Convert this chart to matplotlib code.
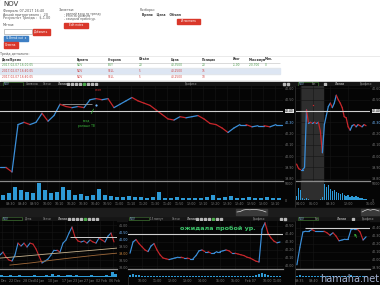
import numpy as np
import matplotlib
matplotlib.use('Agg')
import matplotlib.pyplot as plt
import matplotlib.transforms as mtransforms
from matplotlib.collections import LineCollection
from matplotlib.patches import Rectangle

W, H = 380, 285

# ---------------- данные ----------------
trade_cols = ['Дата/Время', 'Бумага', 'Сторона', 'Объём', 'Цена', 'Позиция', 'Итог', 'Максимум', 'Мин.']
trade_rows = [
    ['2017-02-07 16:00:05', 'NOV', 'BUY', '20', '40.3500', '20', '-1.00', '-20.700', '0'],
    ['2017-02-07 16:40:05', 'NOV', 'SELL', '5', '40.2500', '15', '', '', ''],
    ['2017-02-07 16:40:05', 'NOV', 'SELL', '5', '40.2500', '10', '', '', ''],
]
note_lines = ['- ранний вход по тренду', '- стоп за уровнем', '- ожидала пробой ур.']

# основной график, 5 мин
main_close = [39.90, 39.90, 39.86, 40.28, 40.30, 40.28, 40.30, 40.38, 40.31, 40.36,
              40.46, 40.44, 40.43, 40.44, 40.43, 40.50, 40.51, 40.50, 40.51, 40.43,
              40.46, 40.49, 40.52, 40.49, 40.47, 40.45, 40.41, 40.37, 40.33, 40.32,
              40.35, 40.34, 40.35, 40.36, 40.33, 40.29, 40.28, 40.25, 40.21, 40.25,
              40.28, 40.28, 40.26, 40.27, 40.27, 40.26, 40.28, 40.28]
main_volume = [1500, 2100, 3900, 3000, 2400, 2100, 5100, 3000, 2100, 2400,
               3900, 3000, 1500, 1800, 1200, 1500, 3300, 1500, 1200, 900,
               900, 1200, 900, 900, 600, 900, 2400, 600, 600, 900,
               600, 600, 600, 600, 900, 1500, 600, 900, 1200, 600,
               600, 900, 600, 600, 900, 600, 600, 600]
main_times = ['09:30', '09:40', '09:50', '10:00', '10:10', '10:20', '10:30', '10:40',
              '10:50', '11:00', '11:10', '11:20', '11:30', '11:40', '11:50', '12:00',
              '12:10', '12:20', '12:30', '12:40', '12:50', '13:00', '13:10']
main_level = 40.40
price_ticks = [39.80, 39.90, 40.00, 40.10, 40.20, 40.30, 40.40, 40.50, 40.60]

# правый верхний (премаркет + день)
right_close = [39.93, 39.89, 39.88, 39.88, 39.90, 40.41, 40.29, 40.30, 40.29, 40.30,
               40.29, 40.30, 40.22, 40.03, 40.28, 40.36, 40.44, 40.47, 40.43, 40.47,
               40.54, 40.50, 40.47, 40.43, 40.35, 40.34, 40.26, 40.23, 40.27, 40.28,
               40.26, 40.28, 40.27, 40.26, 40.28, 40.27]
right_volume = [1200, 3600, 3000, 600, 300, 600, 200, 150, 150, 100,
                100, 150, 300, 900, 4800, 3900, 4500, 3300, 2700, 3000,
                2400, 2100, 1800, 2100, 1500, 1200, 1500, 900, 1200, 900,
                1200, 900, 600, 750, 450, 300]
right_times = ['04:00', '06:00', '09:30', '12:00', '16:00']
right_tick_pos = [2, 8.5, 17, 26, 37]

# нижний левый, дневки
daily_close = [38.86, 39.07, 38.71, 38.50, 38.43, 38.86, 39.71, 39.50, 39.71, 39.43,
               39.71, 39.64, 39.29, 38.79, 38.29, 38.43, 38.57, 38.86, 39.21, 39.21,
               39.07, 39.71, 39.93, 40.43, 40.86, 40.14, 39.86, 39.79, 39.86, 39.71,
               39.93, 39.79, 39.71, 40.07, 39.93, 39.79, 40.21, 40.43, 39.79]
daily_volume = [2, 1, 1, 2, 1, 1, 2, 1, 1, 1, 1, 2, 1, 1, 1, 2, 1, 3, 1, 2,
                1, 1, 2, 2, 1, 2, 1, 1, 1, 1, 2, 1, 1, 1, 1, 2, 1, 5, 3]
daily_ma_fast = [38.64, 38.78, 38.93, 39.07, 39.21, 39.36]
daily_ma_slow = [38.14, 38.30, 38.50, 38.68, 38.85, 39.00]
daily_level = 40.14
daily_ticks = [38.0, 38.5, 39.0, 39.5, 40.0, 40.5, 41.0]
daily_days = ['Dec', '22 Dec', '28 Dec', '04 Jan', '10 Jan', '17 Jan', '23 Jan', '27 Jan', '02 Feb', '06 Feb']
daily_tick_pos = [0.7, 4.3, 9, 12.7, 17.3, 21.7, 25.7, 29.3, 33.3, 37.7]

# нижний средний, 15 мин, два дня
mid_close = [40.16, 40.30, 40.33, 40.28, 40.24, 40.20, 40.18, 40.25, 40.28, 40.20,
             40.14, 40.10, 40.09, 40.08, 40.09, 40.10, 40.11, 40.11, 40.10, 40.10,
             40.09, 40.09, 40.13, 40.19, 40.20, 40.18, 40.18, 40.16, 40.16, 40.18,
             40.18, 40.19, 40.20, 40.19, 40.16, 40.16, 40.15, 40.14, 40.13, 40.11,
             40.10, 40.08, 40.06, 40.05, 40.46, 40.54, 40.41, 40.35, 40.31, 40.29,
             40.30]
mid_volume = [2, 3, 2, 2, 1, 1, 1, 1, 1, 1, 1, 1, 1, 1, 1, 1, 1, 1, 1, 1,
              1, 1, 1, 1, 1, 1, 1, 1, 1, 1, 1, 1, 1, 1, 1, 1, 1, 1, 1, 1,
              1, 1, 2, 3, 4, 3, 2, 1, 1, 1, 1]
mid_level = 40.40
mid_ticks = [40.00, 40.10, 40.20, 40.30, 40.40, 40.50]
mid_times = ['10:00', '11:00', '12:00', '13:00', '14:00', '15:00', '16:00', 'Feb 07', '10:00', '11:00']
mid_tick_pos = [4, 9, 14.3, 19, 24.3, 30, 35, 40, 45.7, 49]

# нижний правый, 1 мин
min_close = [39.94, 40.16, 40.35, 40.36, 40.36, 40.38, 40.36, 40.36, 40.36, 40.36,
             40.34, 40.31, 40.34, 40.30, 40.24, 40.25, 40.26, 40.26, 40.38, 40.39,
             40.39, 40.35, 40.25, 40.29]
min_volume = [1, 2, 1, 1, 1, 1, 1, 1, 1, 1, 1, 1, 1, 1, 1, 1, 1, 1, 2, 1, 1, 1, 1, 1]
min_level = 40.40
min_ticks = [39.90, 40.00, 40.10, 40.20, 40.30, 40.40]
min_times = ['09:35', '09:40']
min_tick_pos = [1, 5.5]

nav_a = [3.0, 3.5, 5.0, 5.5, 5.2, 5.6, 5.4, 5.0, 4.2, 3.0]
nav_b = [3.0, 4.5, 5.5, 4.8, 5.6, 5.0, 4.0]

BG = '#050505'
BLUE = '#3b8fd9'
RED = '#c8262b'
VOL = '#2e9ad6'
SEP = '#8a8a8a'
LEVEL = '#cfcfcf'
TICK = '#7a7a7a'
BTN = '#d9372a'

fig = plt.figure(figsize=(3.8, 2.85), dpi=100)
fig.patch.set_facecolor(BG)


def px_axes(x, y, w, h, zorder=1):
    return fig.add_axes([x / W, 1 - (y + h) / H, w / W, h / H], zorder=zorder)


def chart_axes(x, y, w, h):
    ax = px_axes(x, y, w, h, zorder=2)
    ax.set_facecolor(BG)
    for s in ax.spines.values():
        s.set_visible(False)
    ax.tick_params(length=0, labelsize=2.3, colors=TICK, pad=1.2)
    ax.yaxis.tick_right()
    ax.grid(True, color='#161616', lw=0.4)
    ax.set_axisbelow(True)
    return ax


def price_line(ax, ys, lw=0.9):
    ys = np.asarray(ys)
    xs = np.arange(len(ys))
    pts = np.column_stack([xs, ys])
    segs = np.stack([pts[:-1], pts[1:]], axis=1)
    cols = [BLUE if d >= 0 else RED for d in np.diff(ys)]
    ax.add_collection(LineCollection(segs, colors=cols, linewidths=lw, capstyle='round'))


def volume_panel(ax, vols, top, width=0.75):
    ax.bar(np.arange(len(vols)), vols, width=width, color=VOL, linewidth=0)
    ax.set_ylim(0, top)
    ax.spines['top'].set_visible(True)
    ax.spines['top'].set_color(SEP)
    ax.spines['top'].set_linewidth(0.9)
    ax.grid(False)


# ---------------- фон и шапка ----------------
bg = px_axes(0, 0, W, H, zorder=0)
bg.set_xlim(0, W)
bg.set_ylim(H, 0)
bg.axis('off')
bg.add_patch(Rectangle((0, 0), W, 81.5, color='white'))

txt = dict(fontsize=2.4, color='#555555', va='top')
bg.text(3, 1.0, 'NOV', fontsize=5.0, color='#333333', va='top')
bg.text(3, 9.0, 'Февраль 07,2017 16:40', **txt)
bg.text(3, 12.8, 'Акций приторговано :  20', **txt)
bg.text(3, 15.8, 'Результат Трейда :  $-1.00', **txt)
bg.text(3, 23, 'Метки:', **txt)
bg.add_patch(Rectangle((4, 29), 28, 5, facecolor='white', edgecolor='#9a9a9a', lw=0.4))


def button(x, y, w, h, label, color=BTN):
    bg.add_patch(Rectangle((x, y), w, h, color=color))
    bg.text(x + w / 2, y + h / 2, label, fontsize=2.1, color='white', ha='center', va='center')


button(33, 29, 17, 5.5, 'Добавить')
button(4, 36, 24, 4.5, 'IL Break out  x', color='#3d7fc4')
button(4, 42, 14, 5.5, 'Отмена')
bg.text(59, 8, 'Заметки:', **txt)
for i, line in enumerate(note_lines):
    bg.text(64, 11.5 + 2.6 * i, line, fontsize=2.1, color='#555555', va='top')
button(64, 22.5, 24, 5.5, 'Edit notes')
bg.text(140, 8, 'Разборы:', **txt)
bg.text(142, 13, 'Время    Цена    Объем', fontsize=2.2, color='#333333', va='top', fontweight='bold')
button(177, 18.5, 23, 5.5, 'Исполнить')

bg.hlines(56, 0, W, color='#e2e2e2', lw=0.5)
bg.text(0.5, 52.3, 'Трейд детально:', **txt)
col_x = [2, 77, 108, 139, 171, 202, 233, 249, 265]
for cx, name in zip(col_x, trade_cols):
    bg.text(cx, 59.5, name, fontsize=2.1, color='#333333', va='center', fontweight='bold')
bg.hlines(62.6, 0, 280, color='#cccccc', lw=0.5)
bg.add_patch(Rectangle((0, 68.2), 280, 6, color='#dde6f3'))
row_colors = ['#4a9a4a', '#d04040', '#d04040']
for r, (row, rc) in enumerate(zip(trade_rows, row_colors)):
    for cx, val in zip(col_x, row):
        bg.text(cx, 65.3 + 6 * r, val, fontsize=2.1, color=rc, va='center')
    bg.hlines(68.2 + 6 * r, 0, 280, color='#e6e6e6', lw=0.4)


def toolbar(y, items):
    bg.add_patch(Rectangle((0, y), W, 4.6, color='#151515'))
    for kind, x, label in items:
        if kind == 'box':
            bg.add_patch(Rectangle((x, y + 0.7), 20 if label == 'NOV' else 10, 3.2,
                                   facecolor='#0b0b0b', edgecolor='#4a8a3a', lw=0.4))
            bg.text(x + 1, y + 2.3, label, fontsize=1.9, color='#8fb4e0', va='center')
        elif kind == 'icons':
            for k in range(label):
                c = '#4aa84a' if k == 4 else '#b8b8b8'
                bg.add_patch(Rectangle((x + 4 * k, y + 1.2), 2.2, 2.2, color=c))
        else:
            bg.text(x, y + 2.3, label, fontsize=2.0, color='#9a9a9a', va='center',
                    fontweight='bold' if kind == 'bold' else 'normal')


toolbar(81.6, [('box', 3, 'NOV'), ('t', 26, 'Символы'), ('t', 43, 'Свечи'), ('bold', 58, 'Линии'),
               ('icons', 67, 8), ('t', 185, 'Графики'), ('icons', 283, 2),
               ('box', 298, 'NOV'), ('t', 312, '5m'), ('icons', 324, 1), ('bold', 335, 'Линии'),
               ('t', 360, 'Графики')])
toolbar(216.3, [('box', 2, 'NOV'), ('t', 25, 'День'), ('t', 43, 'Свечи'), ('bold', 58, 'Линии'),
                ('icons', 68, 8), ('box', 129, 'NOV'), ('t', 150, '15 минут'), ('t', 172, 'Свечи'),
                ('bold', 187, 'Линии'), ('icons', 196, 7), ('t', 253, 'Графики'), ('icons', 280, 2),
                ('box', 298, 'NOV'), ('t', 315, '5m'), ('bold', 337, 'Линии'), ('icons', 352, 1),
                ('t', 362, 'Графики')])

# навигатор
bg.add_patch(Rectangle((0, 207.5), W, 8.3, color='#1c1c1c'))
bg.add_patch(Rectangle((236, 208.5), 31, 6.5, color='#3a3a3a'))
bg.plot(np.linspace(237, 266, len(nav_a)), 215 - np.array(nav_a), color='#d8d8d8', lw=0.5)
bg.add_patch(Rectangle((361, 208.5), 19, 6.5, color='#3a3a3a'))
bg.plot(np.linspace(362, 379, len(nav_b)), 215 - np.array(nav_b), color='#d8d8d8', lw=0.5)
bg.vlines(294.5, 86, 207, color='#2c2c2c', lw=0.6)
bg.vlines([127.5, 294.5], 221, 285, color='#2c2c2c', lw=0.6)

# ---------------- верхний основной ----------------
ax = chart_axes(0, 86.2, 283, 94.8)
price_line(ax, main_close)
ax.set_xlim(0, 283 / 6)
ax.set_ylim(39.78, 40.62)
ax.set_yticks(price_ticks)
ax.yaxis.set_major_formatter('{x:.2f}')
tick_x = [11 / 6 + 2 * k for k in range(len(main_times))]
ax.set_xticks(tick_x)
ax.set_xticklabels([])
ax.axhline(main_level, color=LEVEL, lw=0.8)
ax.hlines(40.462, 10.3, 15.3, color='#9a9a9a', lw=0.6)
ax.plot([16], [40.453], 'o', ms=1.6, color='#6fb8ff', mec='none')
ax.annotate('', xy=(15.8, 40.44), xytext=(15.0, 40.355),
            arrowprops=dict(arrowstyle='-', color='#3cba3c', lw=0.5))
ax.text(14.4, 40.33, 'вход\nраньше ТВ', fontsize=2.2, color='#3cba3c', ha='center', va='top',
        linespacing=1.5)
ax.text(16.4, 40.565, 'стоп', fontsize=2.2, color='#e03030', ha='center', va='bottom')
trans = mtransforms.blended_transform_factory(ax.transAxes, ax.transData)
ax.text(1.008, main_level, '40.40', transform=trans, fontsize=2.2, color='black', va='center',
        bbox=dict(boxstyle='square,pad=0.15', fc='#e0e0e0', ec='none'))
ax.get_yticklabels()[5].set_color('#6fb8ff')

axv = chart_axes(0, 181, 283, 19)
volume_panel(axv, main_volume, 5700, width=0.6)
axv.set_xlim(-0.5, 283 / 6 - 0.5)
axv.set_yticks([0, 5000])
axv.set_yticklabels(['0', '5000'])
axv.set_xticks([t - 0.5 for t in tick_x])
axv.set_xticklabels(main_times)
axv.grid(True, axis='x', color='#161616', lw=0.4)

# ---------------- верхний правый ----------------
ax2 = chart_axes(296, 86.2, 74, 94.8)
price_line(ax2, right_close)
ax2.set_xlim(-0.3, 37)
ax2.set_ylim(39.78, 40.62)
ax2.set_yticks(price_ticks)
ax2.yaxis.set_major_formatter('{x:.2f}')
ax2.set_xticks(right_tick_pos)
ax2.set_xticklabels([])
ax2.axvspan(2, 13.5, color='#2e2e2e', zorder=0)
ax2.axhline(main_level, color=LEVEL, lw=0.8)
ax2.plot([8.5], [40.45], 's', ms=0.9, color=RED, mec='none')
trans2 = mtransforms.blended_transform_factory(ax2.transAxes, ax2.transData)
ax2.text(1.03, main_level, '40.40', transform=trans2, fontsize=2.2, color='black', va='center',
         bbox=dict(boxstyle='square,pad=0.15', fc='#e0e0e0', ec='none'))
ax2.get_yticklabels()[5].set_color('#6fb8ff')

ax2v = chart_axes(296, 181, 74, 19)
volume_panel(ax2v, right_volume, 5700, width=0.7)
ax2v.axvspan(2, 13.5, color='#2e2e2e', zorder=0)
ax2v.set_xlim(-0.3, 37)
ax2v.set_yticks([0, 5000])
ax2v.set_yticklabels(['0', '5000'])
ax2v.set_xticks(right_tick_pos)
ax2v.set_xticklabels(right_times)

# ---------------- нижний левый ----------------
ax3 = chart_axes(0, 221, 117, 48)
price_line(ax3, daily_close, lw=0.8)
n = len(daily_close)
ax3.plot(np.linspace(0, n + 0.3, len(daily_ma_fast)), daily_ma_fast, color='#c9b590', lw=0.6)
ax3.plot(np.linspace(3.3, n + 0.3, len(daily_ma_slow)), daily_ma_slow, color='#a06a3a', lw=0.6)
ax3.hlines(daily_level, 23.3, n + 0.3, color=LEVEL, lw=0.7)
ax3.set_xlim(0, n)
ax3.set_ylim(37.86, 41.29)
ax3.set_yticks(daily_ticks)
ax3.yaxis.set_major_formatter('{x:.2f}')
ax3.set_xticks(daily_tick_pos)
ax3.set_xticklabels([])
for lbl in ax3.get_yticklabels()[4:6]:
    lbl.set_color('#6fb8ff')
ax3.get_yticklabels()[2].set_color('#d08a40')

ax3v = chart_axes(0, 269, 117, 8)
volume_panel(ax3v, daily_volume, 8, width=0.7)
ax3v.set_xlim(-0.5, n - 0.5)
ax3v.set_yticks([])
ax3v.set_xticks(daily_tick_pos)
ax3v.set_xticklabels(daily_days)

# ---------------- нижний средний ----------------
ax4 = chart_axes(128, 221, 155, 48)
price_line(ax4, mid_close, lw=0.85)
ax4.set_xlim(-0.67, 51)
ax4.set_ylim(39.9625, 40.5625)
ax4.set_yticks(mid_ticks)
ax4.yaxis.set_major_formatter('{x:.2f}')
ax4.set_xticks(mid_tick_pos)
ax4.set_xticklabels([])
ax4.axhline(mid_level, color=LEVEL, lw=0.8)

ax4v = chart_axes(128, 269, 155, 8)
volume_panel(ax4v, mid_volume, 8, width=0.75)
ax4v.set_xlim(-0.67, 51)
ax4v.set_yticks([])
ax4v.set_xticks(mid_tick_pos)
ax4v.set_xticklabels(mid_times)

# ---------------- нижний правый ----------------
ax5 = chart_axes(296, 221, 74, 48)
price_line(ax5, min_close, lw=0.85)
ax5.set_xlim(-0.3, 24.3)
ax5.set_ylim(39.8875, 40.4875)
ax5.set_yticks(min_ticks)
ax5.yaxis.set_major_formatter('{x:.2f}')
ax5.set_xticks(min_tick_pos)
ax5.set_xticklabels([])
ax5.hlines(min_level, 2.7, 24.3, color=LEVEL, lw=0.8)
ax5.annotate('', xy=(18.7, 40.36), xytext=(20.3, 40.25),
             arrowprops=dict(arrowstyle='->', color='#3cba3c', lw=0.5, mutation_scale=3))

ax5v = chart_axes(296, 269, 74, 8)
volume_panel(ax5v, min_volume, 8, width=0.75)
ax5v.set_xlim(-0.3, 24.3)
ax5v.set_yticks([])
ax5v.set_xticks(min_tick_pos)
ax5v.set_xticklabels(min_times)

# ---------------- надписи поверх ----------------
ov = px_axes(0, 0, W, H, zorder=10)
ov.set_xlim(0, W)
ov.set_ylim(H, 0)
ov.axis('off')
ov.patch.set_alpha(0)
ov.text(180, 228.5, 'ожидала пробой ур.', fontsize=4.6, fontweight='bold', color='#3cc46a', va='center')
ov.text(320, 279.5, 'hamaha.net', fontsize=7.0, color='#b4c3e6', va='center', alpha=0.9)

fig.savefig('out.png', dpi=100, facecolor=fig.get_facecolor())
